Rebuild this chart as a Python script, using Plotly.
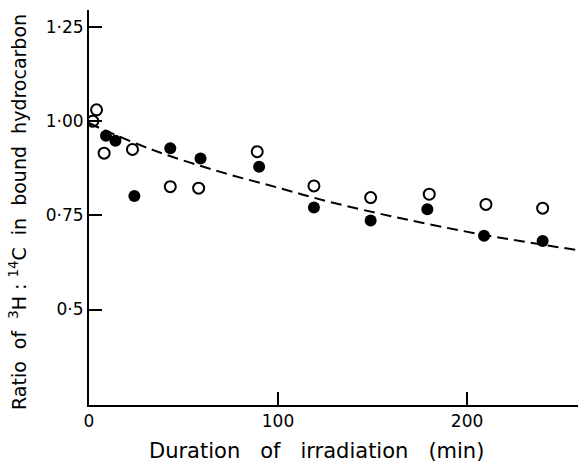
import plotly.graph_objects as go

# Duration of irradiation (min) and 3H:14C ratio, open-circle series
open_time = [2, 4, 8, 23, 43, 58, 89, 119, 149, 180, 210, 240]
open_ratio = [1.00, 1.03, 0.915, 0.925, 0.826, 0.822, 0.919, 0.828, 0.797, 0.806, 0.779, 0.769]

# Filled-circle series
filled_time = [9, 14, 24, 43, 59, 90, 119, 149, 179, 209, 240]
filled_ratio = [0.961, 0.948, 0.801, 0.928, 0.901, 0.879, 0.771, 0.736, 0.766, 0.696, 0.682]

# Fitted trend (dashed curve)
trend_time = [0, 6, 34, 69, 101, 127, 165, 209, 258]
trend_ratio = [0.995, 0.981, 0.923, 0.866, 0.822, 0.786, 0.742, 0.698, 0.658]

y_ticks = [0.5, 0.75, 1.0, 1.25]
y_tick_text = ["0·5", "0·75", "1·00", "1·25"]
x_ticks = [0, 100, 200]
x_tick_text = ["0", "100", "200"]

FONT = "DejaVu Sans"
L, R, T, B = 89, 0, 10, 59
PW, PH = 578 - L - R, 464 - T - B

fig = go.Figure()
fig.add_trace(go.Scatter(
    x=trend_time, y=trend_ratio, mode="lines",
    line=dict(color="black", width=2, dash="11px,6px", shape="spline"),
    hoverinfo="skip", showlegend=False,
))
fig.add_trace(go.Scatter(
    x=open_time, y=open_ratio, mode="markers",
    marker=dict(symbol="circle-open", size=11, color="black", line=dict(width=2)),
    showlegend=False,
))
fig.add_trace(go.Scatter(
    x=filled_time, y=filled_ratio, mode="markers",
    marker=dict(symbol="circle", size=12, color="black"),
    showlegend=False,
))

fig.update_layout(
    width=578, height=464,
    margin=dict(l=L, r=R, t=T, b=B),
    paper_bgcolor="white", plot_bgcolor="white",
    font=dict(family=FONT, size=17, color="black"),
    xaxis=dict(
        range=[0, 258.7], showgrid=False, zeroline=False,
        showline=True, linecolor="black", linewidth=2,
        ticks="inside", ticklen=13, tickwidth=1.5, tickcolor="black",
        tickvals=x_ticks, ticktext=x_tick_text,
        tickfont=dict(size=17),
    ),
    yaxis=dict(
        range=[0.2465, 1.295], showgrid=False, zeroline=False,
        showline=True, linecolor="black", linewidth=2,
        ticks="inside", ticklen=13, tickwidth=1.5, tickcolor="black",
        tickvals=y_ticks, ticktext=y_tick_text,
        tickfont=dict(size=17),
    ),
    annotations=[
        dict(
            text="Duration   of   irradiation   (min)",
            xref="paper", yref="paper",
            x=(316 - L) / PW, y=(464 - 451 - B) / PH,
            xanchor="center", yanchor="middle", showarrow=False,
            font=dict(size=21),
        ),
        dict(
            text="Ratio  of  <sup>3</sup>H : <sup>14</sup>C  in  bound  hydrocarbon",
            xref="paper", yref="paper",
            x=(18 - L) / PW, y=(464 - 212 - B) / PH,
            xanchor="center", yanchor="middle", showarrow=False, textangle=-90,
            font=dict(size=19),
        ),
    ],
)

fig.write_html("out.html")
